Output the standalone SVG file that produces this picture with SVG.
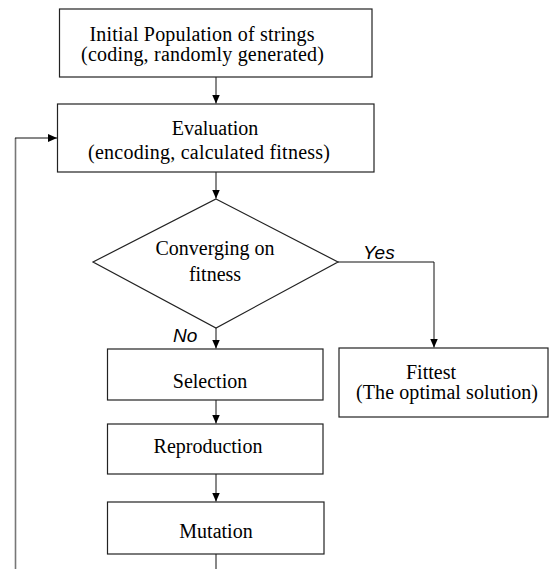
<svg xmlns="http://www.w3.org/2000/svg" width="549" height="569" viewBox="0 0 549 569">
<defs>
<style>
.box{fill:#fff;stroke:#222;stroke-width:1.2}
.t{font-family:"Liberation Serif","Times New Roman",serif;font-size:20px;fill:#000;text-anchor:middle}
.lbl{font-family:"Liberation Sans",Arial,sans-serif;font-size:19px;font-style:italic;fill:#000}
.c{fill:none;stroke:#111;stroke-width:1}
.g{fill:none;stroke:#777;stroke-width:1.6}
</style>
<marker id="ah" markerWidth="10" markerHeight="8" refX="9" refY="4" orient="auto" markerUnits="userSpaceOnUse">
<path d="M0,0 L9,4 L0,8 Z" fill="#000"/>
</marker>
</defs>
<rect width="549" height="569" fill="#fff"/>
<g id="connectors">
<path class="c" d="M216,77 V103.5" marker-end="url(#ah)"/>
<path class="c" d="M216,172 V198.5" marker-end="url(#ah)"/>
<path class="c" d="M216,328 V348.5" marker-end="url(#ah)"/>
<path class="c" d="M338,262 H434 V347.5" marker-end="url(#ah)"/>
<path class="c" d="M216,400 V423.5" marker-end="url(#ah)"/>
<path class="c" d="M216,474 V501.5" marker-end="url(#ah)"/>
<path class="c" d="M216,554 V569"/>
<path class="g" d="M15.5,569 V138"/>
<path class="c" d="M15,138 H57" marker-end="url(#ah)"/>
<text class="lbl" x="363" y="259">Yes</text>
<text class="lbl" x="173" y="342">No</text>
</g>
<g id="init">
<rect class="box" x="59.5" y="9" width="312.5" height="68"/>
<text class="t" x="202" y="40.5" textLength="225">Initial Population of strings</text>
<text class="t" x="202.5" y="61" textLength="243">(coding, randomly generated)</text>
</g>
<g id="eval">
<rect class="box" x="57.5" y="104" width="316.5" height="68"/>
<text class="t" x="215" y="135">Evaluation</text>
<text class="t" x="209" y="159" textLength="242">(encoding, calculated fitness)</text>
</g>
<g id="decision">
<path class="box" d="M216,199 L338,262 L216,328 L93,262 Z"/>
<text class="t" x="215" y="255">Converging on</text>
<text class="t" x="215" y="281">fitness</text>
</g>
<g id="selection">
<rect class="box" x="107.5" y="349" width="215.5" height="51"/>
<text class="t" x="210" y="388">Selection</text>
</g>
<g id="fittest">
<rect class="box" x="339" y="348" width="209" height="69"/>
<text class="t" x="431" y="378.5">Fittest</text>
<text class="t" x="447" y="398.5" textLength="182">(The optimal solution)</text>
</g>
<g id="reproduction">
<rect class="box" x="107.5" y="424" width="215.5" height="50"/>
<text class="t" x="208" y="453">Reproduction</text>
</g>
<g id="mutation">
<rect class="box" x="107.5" y="502" width="216.5" height="52"/>
<text class="t" x="216" y="538">Mutation</text>
</g>
</svg>
